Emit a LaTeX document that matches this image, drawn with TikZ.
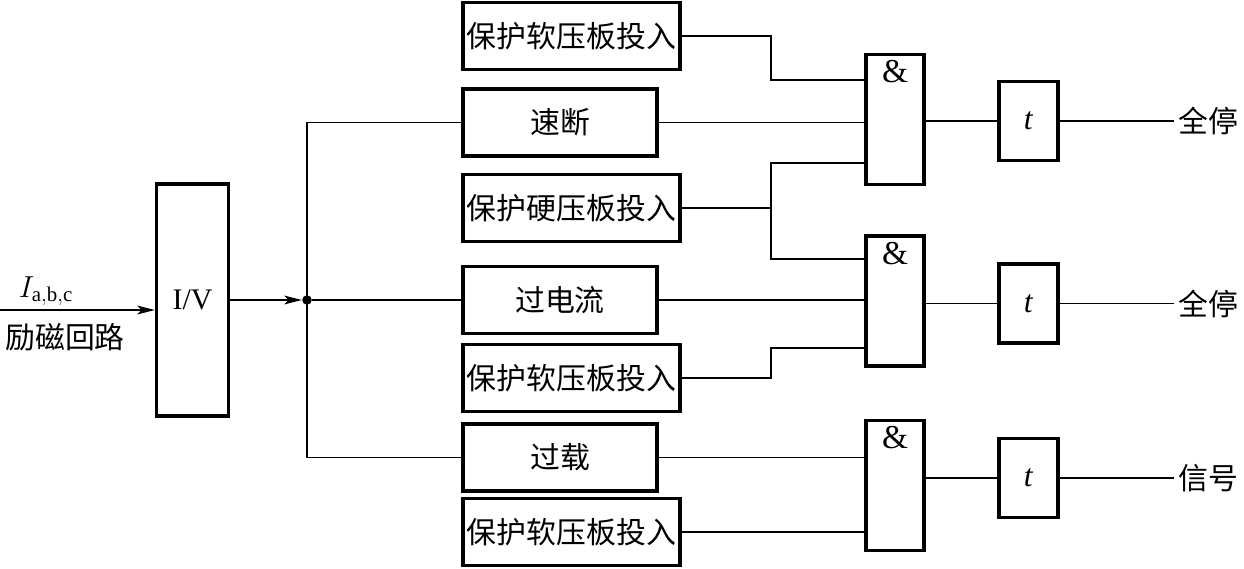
\documentclass[tikz,border=0pt]{standalone}
\usepackage{fontspec}
\setmainfont{Liberation Serif}
\newfontfamily\cjk{Noto Sans CJK SC}
\usetikzlibrary{arrows.meta}

\begin{document}
\begin{tikzpicture}[x=0.02cm, y=-0.02cm,
  every node/.style={font=\fontsize{17}{20}\selectfont},
  box/.style={draw, line width=1.8pt, minimum height=1.34cm, inner sep=0pt, font=\fontsize{17}{20}\selectfont\cjk},
  widebox/.style={box, minimum width=4.34cm},
  narrowbox/.style={box, minimum width=3.88cm},
  gate/.style={draw, line width=1.8pt, minimum width=1.16cm, minimum height=2.6cm,
    label={[anchor=north, font=\fontsize{19}{22}\selectfont, inner sep=4pt]north:\&}},
  tbox/.style={draw, line width=1.8pt, minimum width=1.18cm, minimum height=1.58cm, font=\fontsize{18}{20}\selectfont},
  wire/.style={line width=0.8pt},
  tag/.style={font=\fontsize{17}{20}\selectfont\cjk, inner sep=2pt}]
  \useasboundingbox (0,0) rectangle (1244,568);

  % input side
  \node[draw, line width=1.8pt, minimum width=1.44cm, minimum height=4.64cm] (iv) at (192.5,300) {I/V};
  \coordinate (src) at (0,310);
  \draw[wire, -{Stealth[length=10pt, width=5pt, inset=2.5pt]}] (src) -- (src -| iv.west);
  \node (cur) at (46,291) {$I_{\mathrm{a,b,c}}$};
  \node[tag] (exc) at (65,337) {励磁回路};
  \node[circle, fill, inner sep=0pt, minimum size=0.19cm] (dot) at (307,300) {};
  \draw[wire, -{Stealth[length=10pt, width=5pt, inset=2.5pt]}] (iv.east) -- (dot);

  % condition boxes
  \node[widebox]   (sb1) at (571.5,36)  {保护软压板投入};
  \node[narrowbox] (sd)  at (560,122.5) {速断};
  \node[widebox]   (yb)  at (571.5,208) {保护硬压板投入};
  \node[narrowbox] (gl)  at (560,300)   {过电流};
  \node[widebox]   (sb2) at (571.5,378) {保护软压板投入};
  \node[narrowbox] (gz)  at (560,457.5) {过载};
  \node[widebox]   (sb3) at (571.5,532) {保护软压板投入};

  % bus
  \draw[wire] (sd.west) -| (dot.center) |- (gz.west);
  \draw[wire] (dot) -- (gl.west);

  % and gates and timers
  \node[gate] (g1) at (895,119.5) {};
  \node[gate] (g2) at (895,301)   {};
  \node[gate] (g3) at (895,485.5) {};
  \node[tbox] (t1) at (1028.5,121)   {\textit{t}};
  \node[tbox] (t2) at (1028.5,303.5) {\textit{t}};
  \node[tbox] (t3) at (1028.5,478)   {\textit{t}};

  % gate inputs
  \coordinate (a1) at (771,80);
  \coordinate (a2) at (771,163);
  \coordinate (a3) at (771,259);
  \coordinate (a4) at (771,348);
  \draw[wire] (sb1.east) -| (a1) -- (a1 -| g1.west);
  \draw[wire] (sd.east) -- (sd.east -| g1.west);
  \draw[wire] (yb.east) -- (yb.east -| a2);
  \draw[wire] (a2 -| g1.west) -- (a2) -- (a3) -- (a3 -| g2.west);
  \draw[wire] (gl.east) -- (gl.east -| g2.west);
  \draw[wire] (sb2.east) -| (a4) -- (a4 -| g2.west);
  \draw[wire] (gz.east) -- (gz.east -| g3.west);
  \draw[wire] (sb3.east) -- (sb3.east -| g3.west);

  % outputs
  \draw[wire] (t1.west -| g1.east) -- (t1.west);
  \draw[wire] (t2.west -| g2.east) -- (t2.west);
  \draw[wire] (t3.west -| g3.east) -- (t3.west);
  \node[tag] (o1) at (1208,121)   {全停};
  \node[tag] (o2) at (1208,303.5) {全停};
  \node[tag] (o3) at (1208,478)   {信号};
  \draw[wire] (t1.east) -- (o1.west);
  \draw[wire] (t2.east) -- (o2.west);
  \draw[wire] (t3.east) -- (o3.west);
\end{tikzpicture}
\end{document}
